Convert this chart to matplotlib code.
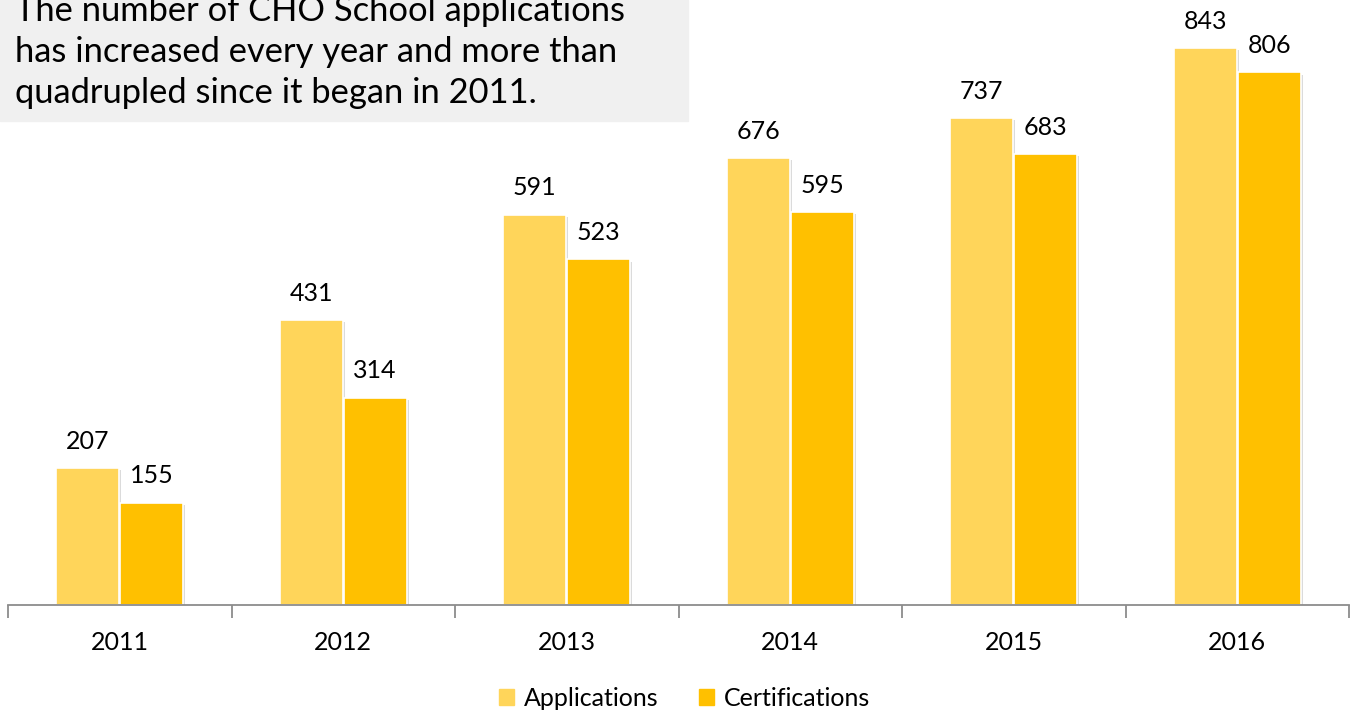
import matplotlib.pyplot as plt
import matplotlib.patches as mpatches
import matplotlib.patheffects as pe
import numpy as np

plt.rcParams['font.family'] = ['Lato', 'DejaVu Sans']

# ---- data ----
years = ['2011', '2012', '2013', '2014', '2015', '2016']
applications = [207, 431, 591, 676, 737, 843]
certifications = [155, 314, 523, 595, 683, 806]

app_color = '#FFD55A'
cert_color = '#FFC000'

fig = plt.figure(figsize=(13.58, 7.17), dpi=100)
ax = fig.add_axes([8 / 1358, 112 / 717, 1341 / 1358, 605 / 717])

x = np.arange(len(years))
w = 0.28
off = 0.143
shadow = [pe.SimplePatchShadow(offset=(1.5, -1.5), shadow_rgbFace='#999999', alpha=0.35), pe.Normal()]

b1 = ax.bar(x - off, applications, w, color=app_color, edgecolor='white', lw=1.2,
            path_effects=shadow, zorder=2)
b2 = ax.bar(x + off, certifications, w, color=cert_color, edgecolor='white', lw=1.2,
            path_effects=shadow, zorder=2)

# value labels above each bar
for rects, vals in ((b1, applications), (b2, certifications)):
    for r, v in zip(rects, vals):
        ax.text(r.get_x() + r.get_width() / 2, v + 23, str(v), ha='center', va='bottom',
                fontsize=18, color='black')

ax.set_xlim(-0.5, len(years) - 0.5)
ax.set_ylim(0, 915.7)

for s in ['top', 'right', 'left']:
    ax.spines[s].set_visible(False)
ax.spines['bottom'].set_color('#8c8c8c')
ax.spines['bottom'].set_linewidth(1.3)
ax.set_yticks([])

# category labels centred, tick marks between categories
ax.set_xticks(x)
ax.set_xticklabels(years, fontsize=18)
ax.tick_params(axis='x', length=0, pad=19)
ax.set_xticks(np.arange(-0.5, len(years)), minor=True)
ax.tick_params(axis='x', which='minor', length=9, width=1.3, color='#8c8c8c')

# legend
handles = [mpatches.Patch(color=app_color, label='Applications'),
           mpatches.Patch(color=cert_color, label='Certifications')]
fig.legend(handles=handles, loc='center', bbox_to_anchor=(0.504, 1 - 698 / 717),
           ncol=2, frameon=False, fontsize=18, handlelength=0.6, handleheight=0.6,
           handletextpad=0.4, columnspacing=1.6)

# grey note box in the top-left corner
fig.patches.append(mpatches.Rectangle((0, 1 - 121 / 717), 688 / 1358, 121 / 717,
                                      transform=fig.transFigure, color='#F0F0F0', zorder=3))
note = ['The number of CHO School applications',
        'has increased every year and more than',
        'quadrupled since it began in 2011.']
for i, line in enumerate(note):
    fig.text(15 / 1358, 1 - (21 + 41 * i) / 717, line, fontsize=24.8, va='baseline',
             ha='left', zorder=4)

fig.savefig('out.png', dpi=100)
